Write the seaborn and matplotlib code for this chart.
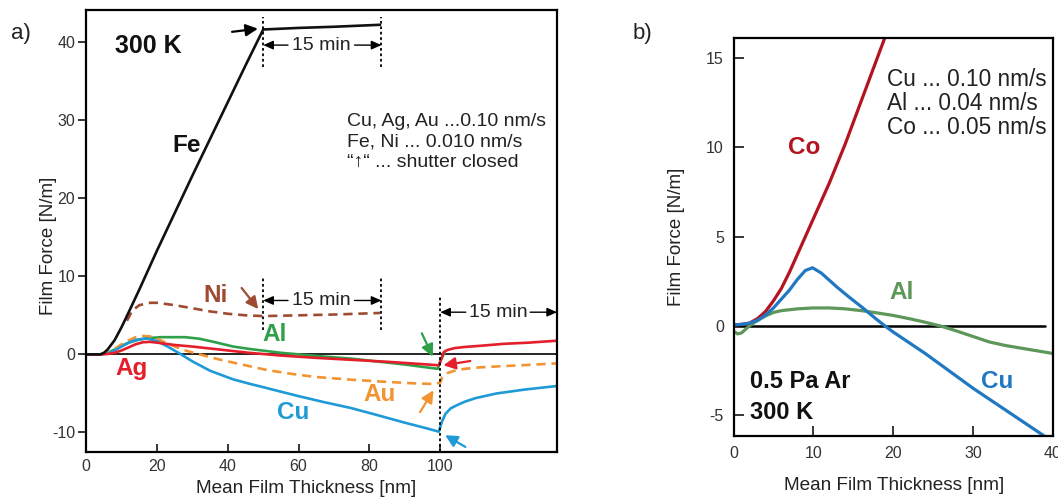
import numpy as np
import pandas as pd
import matplotlib
matplotlib.use("Agg")
import matplotlib.pyplot as plt
import seaborn as sns

# ---------------- data: panel a ----------------
fe_x = [0, 4, 5, 6, 8, 10, 12, 15, 20, 25, 30, 35, 40, 45, 50, 60, 70, 83]
fe_y = [0, 0, 0.2, 0.6, 1.8, 3.5, 5.4, 8.3, 13.3, 18.1, 22.9, 27.6, 32.3, 37.0, 41.6, 41.8, 41.95, 42.2]

ni_x = [11.5, 13, 15, 18, 20, 25, 30, 35, 40, 45, 50, 60, 70, 83]
ni_y = [4.3, 5.6, 6.3, 6.6, 6.6, 6.3, 5.9, 5.5, 5.2, 5.0, 4.9, 5.0, 5.1, 5.3]

al_a_x = [0, 4, 6, 8, 10, 12, 15, 18, 21, 25, 28, 32, 36, 41.5, 46, 55, 65, 75, 83, 90, 95, 99.3, 100.3, 101.2]
al_a_y = [0, 0, 0.2, 0.6, 1.1, 1.5, 1.9, 2.1, 2.2, 2.2, 2.2, 2.0, 1.6, 1.0, 0.7, 0.2, -0.2, -0.55, -0.95, -1.3, -1.6, -1.85, -0.6, 0.2]

ag_x = [0, 4, 6, 8, 10, 12, 14, 16, 18, 20, 25, 30, 35, 40, 46, 55, 65, 75, 85, 95, 99.6, 100.3, 101, 102, 104, 107, 111.4, 118, 125, 133]
ag_y = [0, 0, 0.05, 0.2, 0.5, 0.9, 1.3, 1.55, 1.6, 1.5, 1.2, 1.0, 0.75, 0.5, 0.2, -0.15, -0.45, -0.7, -0.95, -1.25, -1.4, -0.6, 0.3, 0.55, 0.8, 0.95, 1.1, 1.35, 1.5, 1.75]

au_x = [0, 4, 6, 8, 10, 12, 14, 16, 18, 20, 25, 28, 32, 38, 46, 51, 58, 65, 75, 84, 92, 98.5, 100, 100.6, 102, 104, 107, 111, 118, 125, 133]
au_y = [0, 0, 0.2, 0.7, 1.3, 1.8, 2.2, 2.35, 2.3, 2.0, 1.0, 0.5, 0.0, -0.7, -1.5, -2.0, -2.5, -2.9, -3.25, -3.5, -3.7, -3.8, -3.6, -2.9, -2.4, -2.1, -1.85, -1.67, -1.5, -1.35, -1.15]

cu_a_x = [0, 4, 6, 8, 10, 12, 14, 17, 20, 23, 26.4, 30, 35, 41.5, 46, 50, 53, 60, 67, 74.6, 82, 90, 96, 99.6, 100, 100.5, 101.5, 103, 105, 107, 110, 116, 124, 133]
cu_a_y = [0, 0, 0.1, 0.5, 1.0, 1.5, 1.85, 2.05, 1.7, 1.0, 0.1, -0.9, -2.1, -3.2, -3.75, -4.2, -4.55, -5.35, -6.1, -6.85, -7.75, -8.75, -9.45, -9.9, -9.3, -8.6, -7.6, -6.9, -6.45, -6.05, -5.6, -5.0, -4.5, -4.05]

a_xticks = [0, 20, 40, 60, 80, 100]
a_yticks = [-10, 0, 10, 20, 30, 40]

# ---------------- data: panel b ----------------
co_x = [0, 1, 2, 3, 4, 5, 6, 7, 8, 9, 10, 11, 12, 13, 14, 15, 16, 17, 18, 19, 20]
co_y = [0.05, 0.08, 0.15, 0.4, 0.8, 1.4, 2.1, 3.0, 4.0, 5.0, 6.0, 7.0, 8.0, 9.1, 10.2, 11.4, 12.6, 13.8, 15.0, 16.2, 17.4]

cu_b_x = [0, 1, 2, 3, 4, 5, 6, 7, 8, 9, 9.9, 11, 12, 13, 14, 15, 16, 17, 18, 19, 20, 22, 24, 26, 28, 30, 32, 34, 36, 38, 39]
cu_b_y = [0.05, 0.08, 0.15, 0.3, 0.6, 1.0, 1.5, 2.0, 2.6, 3.1, 3.25, 2.95, 2.55, 2.15, 1.78, 1.42, 1.07, 0.7, 0.33, -0.02, -0.35, -0.95, -1.55, -2.2, -2.85, -3.5, -4.1, -4.7, -5.3, -5.9, -6.2]

al_b_x = [0, 0.5, 1, 1.5, 2, 3, 4, 5, 6, 8, 10, 12, 14, 16, 18, 20, 22, 24, 26, 28, 30, 32, 34, 36, 38, 40]
al_b_y = [-0.3, -0.45, -0.4, -0.2, 0, 0.3, 0.55, 0.75, 0.85, 0.95, 1.0, 1.0, 0.95, 0.85, 0.72, 0.58, 0.4, 0.2, -0.02, -0.3, -0.6, -0.9, -1.1, -1.25, -1.4, -1.55]

b_xticks = [0, 10, 20, 30, 40]
b_yticks = [-5, 0, 5, 10, 15]

# ---------------- style ----------------
sns.set_theme(style="ticks")
plt.rcParams["font.family"] = ["Liberation Sans", "DejaVu Sans"]
plt.rcParams["axes.linewidth"] = 1.5

C_FE = "#111111"
C_NI = "#9E4B32"
C_AL = "#2FA04A"
C_AG = "#E41E2B"
C_AU = "#F39433"
C_CU = "#1E9AD6"
C_CO = "#B3141F"
C_CUB = "#1F78C1"
C_ALB = "#5E975A"

fig = plt.figure(figsize=(10.58, 4.98), dpi=100)
axa = fig.add_axes([0.0815, 0.0924, 0.4450, 0.8876])
axb = fig.add_axes([0.6933, 0.1245, 0.3020, 0.7986])

LW = 1.9
dash = (0, (3.5, 2.2))

# ---------------- panel a ----------------
axa.axhline(0, color="black", lw=1.2, zorder=1)
sns.lineplot(x=ni_x, y=ni_y, ax=axa, color=C_NI, lw=LW, linestyle=dash)
sns.lineplot(x=al_a_x, y=al_a_y, ax=axa, color=C_AL, lw=LW)
sns.lineplot(x=au_x, y=au_y, ax=axa, color=C_AU, lw=LW, linestyle=dash)
sns.lineplot(x=cu_a_x, y=cu_a_y, ax=axa, color=C_CU, lw=LW)
sns.lineplot(x=ag_x, y=ag_y, ax=axa, color=C_AG, lw=LW)
sns.lineplot(x=fe_x, y=fe_y, ax=axa, color=C_FE, lw=LW)

axa.set_xlim(0, 133)
axa.set_ylim(-12.5, 44.1)
axa.set_xticks(a_xticks)
axa.set_yticks(a_yticks)
axa.set_xticklabels([str(v) for v in a_xticks])
axa.set_yticklabels([str(v) for v in a_yticks])
axa.tick_params(axis="x", direction="in", length=6, width=1.3, pad=5, labelsize=11.5, labelcolor="#333333")
axa.tick_params(axis="y", direction="out", length=6, width=1.3, pad=2, labelsize=11.5, labelcolor="#333333")
axa.set_xlabel("Mean Film Thickness [nm]", fontsize=13.7, color="#222222")
axa.set_ylabel("Film Force [N/m]", fontsize=13.5, color="#222222")
axa.xaxis.set_label_coords(0.467, -0.063)
axa.yaxis.set_label_coords(-0.063, 0.466)
for s in axa.spines.values():
    s.set_linewidth(1.6)
    s.set_color("black")

# dotted markers
vkw = dict(color="black", lw=1.3, linestyle=(0, (1.5, 1.5)), zorder=4)
axa.plot([50, 50], [36.8, 43.2], **vkw)
axa.plot([83.4, 83.4], [36.8, 43.2], **vkw)
axa.plot([50, 50], [3.1, 9.8], **vkw)
axa.plot([83.4, 83.4], [3.1, 9.8], **vkw)
axa.plot([100, 100], [-12.5, 7.6], **vkw)

akw = dict(arrowstyle="-|>,head_length=0.5,head_width=0.22", color="black", lw=1.0, shrinkA=0, shrinkB=0)

def span(ax, x0, x1, xt0, xt1, y):
    ax.text((xt0 + xt1) / 2, y, "15 min", ha="center", va="center", fontsize=14, color="#222222")
    ax.annotate("", xy=(x0, y), xytext=(xt0, y), arrowprops=akw)
    ax.annotate("", xy=(x1, y), xytext=(xt1, y), arrowprops=akw)

span(axa, 50, 83.4, 57.0, 75.8, 39.6)
span(axa, 50, 83.4, 57.0, 75.8, 6.9)
span(axa, 100, 133, 107.2, 125.4, 5.4)

def arr(ax, x0, y0, x1, y1, c):
    ax.annotate("", xy=(x1, y1), xytext=(x0, y0),
                arrowprops=dict(arrowstyle="-|>,head_length=0.6,head_width=0.3", color=c, lw=1.6,
                                shrinkA=0, shrinkB=0))

arr(axa, 41.2, 41.3, 48.5, 41.7, "black")
arr(axa, 43.9, 8.5, 48.6, 5.8, C_NI)
arr(axa, 94.8, 2.7, 97.9, -0.3, C_AL)
arr(axa, 108.5, -0.85, 100.9, -1.4, C_AG)
arr(axa, 94.3, -7.4, 98.1, -4.6, C_AU)
arr(axa, 107.1, -11.85, 101.4, -10.35, C_CU)

bold = dict(fontweight="bold", ha="center", va="center", fontsize=17.5)
axa.text(8.0, 39.5, "300 K", fontsize=18, fontweight="bold", ha="left", va="center", color="#111111")
axa.text(28.4, 26.7, "Fe", color="#111111", **bold)
axa.text(36.4, 7.5, "Ni", color=C_NI, **bold)
axa.text(53.3, 2.5, "Al", color=C_AL, **bold)
axa.text(12.8, -1.75, "Ag", color=C_AG, **bold)
axa.text(58.4, -7.5, "Cu", color=C_CU, **bold)
axa.text(83.0, -5.1, "Au", color=C_AU, **bold)

tkw = dict(fontsize=14, ha="left", va="center", color="#222222")
axa.text(73.7, 29.8, "Cu, Ag, Au ...0.10 nm/s", **tkw)
axa.text(73.7, 27.2, "Fe, Ni ... 0.010 nm/s", **tkw)
axa.text(73.7, 24.6, "\u201c\u2191\u201c ... shutter closed", **tkw)

# ---------------- panel b ----------------
LWB = 2.3
axb.plot([0, 39], [0, 0], color="black", lw=1.8, zorder=1)
sns.lineplot(x=al_b_x, y=al_b_y, ax=axb, color=C_ALB, lw=LWB)
sns.lineplot(x=co_x, y=co_y, ax=axb, color=C_CO, lw=LWB)
sns.lineplot(x=cu_b_x, y=cu_b_y, ax=axb, color=C_CUB, lw=LWB)

axb.set_xlim(0, 39.9)
axb.set_ylim(-6.17, 16.1)
axb.set_xticks(b_xticks)
axb.set_yticks(b_yticks)
axb.set_xticklabels([str(v) for v in b_xticks])
axb.set_yticklabels([str(v) for v in b_yticks])
axb.tick_params(axis="both", direction="in", length=7, width=1.3, labelsize=11.5, labelcolor="#333333")
axb.tick_params(axis="x", pad=7)
axb.tick_params(axis="y", pad=7)
axb.set_xlabel("Mean Film Thickness [nm]", fontsize=13.7, color="#222222")
axb.set_ylabel("Film Force [N/m]", fontsize=13.5, color="#222222")
axb.xaxis.set_label_coords(0.502, -0.102)
axb.yaxis.set_label_coords(-0.152, 0.5)
for s in axb.spines.values():
    s.set_linewidth(1.6)
    s.set_color("black")

axb.text(8.8, 10.0, "Co", color=C_CO, **bold)
axb.text(21.1, 1.85, "Al", color=C_ALB, **bold)
axb.text(33.0, -3.1, "Cu", color=C_CUB, **bold)
axb.text(2.1, -3.1, "0.5 Pa Ar", fontsize=17, fontweight="bold", ha="left", va="center", color="#111111")
axb.text(2.1, -4.85, "300 K", fontsize=17, fontweight="bold", ha="left", va="center", color="#111111")
tkb = dict(fontsize=16.3, ha="left", va="center", color="#222222")
axb.text(19.2, 13.8, "Cu ... 0.10 nm/s", **tkb)
axb.text(19.2, 12.45, "Al ... 0.04 nm/s", **tkb)
axb.text(19.2, 11.1, "Co ... 0.05 nm/s", **tkb)

fig.text(21 / 1058, 1 - 34 / 498, "a)", fontsize=16, ha="center", va="center", color="#222222")
fig.text(642 / 1058, 1 - 34 / 498, "b)", fontsize=16, ha="center", va="center", color="#222222")

fig.savefig("out.png", dpi=100, facecolor="white")
